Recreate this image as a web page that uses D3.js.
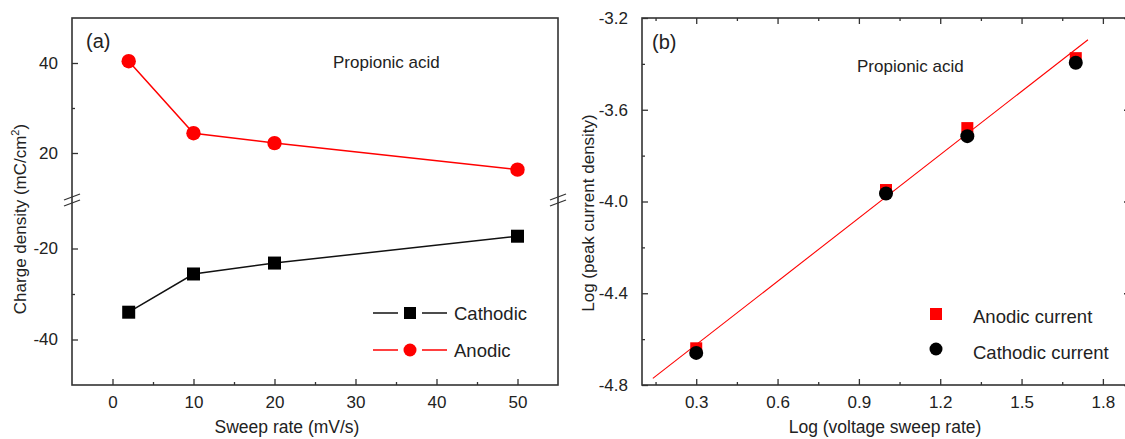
<!DOCTYPE html>
<html>
<head>
<meta charset="utf-8">
<script src="https://cdn.jsdelivr.net/npm/d3@7"></script>
<style>
  body { margin: 0; background: #fff; }
  svg text { font-family: "Liberation Sans", Arial, sans-serif; fill: #222; }
</style>
</head>
<body>
<div id="chart"></div>
<script>
// panel (a): charge density vs sweep rate
var sweepRates = [2, 10, 20, 50];
var anodicCharge = [40.4, 24.4, 22.2, 16.3];
var cathodicCharge = [-34.0, -25.6, -23.2, -17.3];
var aXTicks = [0, 10, 20, 30, 40, 50];
var aYTicksTop = [20, 40];
var aYTicksBot = [-20, -40];

// panel (b): log peak current vs log sweep rate
var logRates = [0.3, 1.0, 1.3, 1.7];
var logAnodic = [-4.64, -3.95, -3.68, -3.375];
var logCathodic = [-4.66, -3.965, -3.715, -3.395];
var fitSlope = 0.92, fitIntercept = -4.90, fitRange = [0.14, 1.745];
var bXTicks = [0.3, 0.6, 0.9, 1.2, 1.5, 1.8];
var bYTicks = [-4.8, -4.4, -4.0, -3.6, -3.2];

var W = 1125, H = 439;
var axisColor = "#333";
var red = "#f00";

// plain hyphen minus, like the original
function fmt(spec) {
    var f = d3.format(spec);
    return function(d) { return f(d).replace("\u2212", "-"); };
}

var svg = d3.select("#chart").append("svg").attr("width", W).attr("height", H);

// ---------- panel (a) ----------
var ax = {left: 72, right: 558, top: 18, bottom: 385, breakY: 200};
var xA = d3.scaleLinear().domain([-5, 55]).range([ax.left, ax.right]);
var yTop = d3.scaleLinear().domain([10, 50]).range([ax.breakY - 2, ax.top]);
var yBot = d3.scaleLinear().domain([-50, -10]).range([ax.bottom, ax.breakY + 3]);

var gA = svg.append("g");

// bottom axis, ticks pointing in
gA.append("g")
    .attr("transform", "translate(0," + ax.bottom + ")")
    .call(d3.axisBottom(xA).tickValues(d3.range(5, 55, 10)).tickSize(-3).tickFormat(""));
gA.append("g")
    .attr("transform", "translate(0," + ax.bottom + ")")
    .call(d3.axisBottom(xA).tickValues(aXTicks).tickSize(-6).tickPadding(11).tickFormat(fmt("d")));

// left axis segments
gA.append("g")
    .attr("transform", "translate(" + ax.left + ",0)")
    .call(d3.axisLeft(yTop).tickValues([30]).tickSize(-3).tickFormat(""));
gA.append("g")
    .attr("transform", "translate(" + ax.left + ",0)")
    .call(d3.axisLeft(yTop).tickValues(aYTicksTop).tickSize(-6).tickPadding(14).tickFormat(fmt("d")));
gA.append("g")
    .attr("transform", "translate(" + ax.left + ",0)")
    .call(d3.axisLeft(yBot).tickValues([-30]).tickSize(-3).tickFormat(""));
gA.append("g")
    .attr("transform", "translate(" + ax.left + ",0)")
    .call(d3.axisLeft(yBot).tickValues(aYTicksBot).tickSize(-6).tickPadding(14).tickFormat(fmt("d")));

gA.selectAll(".domain").remove();

// frame
gA.append("rect")
    .attr("x", ax.left).attr("y", ax.top)
    .attr("width", ax.right - ax.left).attr("height", ax.bottom - ax.top)
    .attr("fill", "none").attr("stroke", axisColor).attr("stroke-width", 1.6);

// axis break marks
[ax.left, ax.right].forEach(function(bx) {
    [-3, 3].forEach(function(off) {
        gA.append("line")
            .attr("x1", bx - 8).attr("y1", ax.breakY + off + 3)
            .attr("x2", bx + 8).attr("y2", ax.breakY + off - 3)
            .attr("stroke", axisColor).attr("stroke-width", 1.3);
    });
});

var lineTop = d3.line().x(function(d, i) { return xA(sweepRates[i]); }).y(function(d) { return yTop(d); });
var lineBot = d3.line().x(function(d, i) { return xA(sweepRates[i]); }).y(function(d) { return yBot(d); });

gA.append("path").datum(anodicCharge).attr("d", lineTop)
    .attr("fill", "none").attr("stroke", red).attr("stroke-width", 1.5);
gA.append("path").datum(cathodicCharge).attr("d", lineBot)
    .attr("fill", "none").attr("stroke", "#111").attr("stroke-width", 1.5);

gA.selectAll("circle.an").data(anodicCharge).enter().append("circle")
    .attr("cx", function(d, i) { return xA(sweepRates[i]); })
    .attr("cy", function(d) { return yTop(d); })
    .attr("r", 7.2).attr("fill", red);
gA.selectAll("rect.ca").data(cathodicCharge).enter().append("rect")
    .attr("x", function(d, i) { return xA(sweepRates[i]) - 6.5; })
    .attr("y", function(d) { return yBot(d) - 6.5; })
    .attr("width", 13).attr("height", 13).attr("fill", "#000");

gA.append("text").attr("x", 86).attr("y", 48).attr("font-size", "20px").text("(a)");
gA.append("text").attr("x", 333).attr("y", 68).attr("font-size", "17px").text("Propionic acid");

// legend (a)
var legA = gA.append("g");
[[313, "#111", "Cathodic", "sq"], [350, red, "Anodic", "ci"]].forEach(function(it) {
    legA.append("line").attr("x1", 373).attr("x2", 398).attr("y1", it[0]).attr("y2", it[0])
        .attr("stroke", it[1]).attr("stroke-width", 1.5);
    legA.append("line").attr("x1", 422).attr("x2", 447).attr("y1", it[0]).attr("y2", it[0])
        .attr("stroke", it[1]).attr("stroke-width", 1.5);
    if (it[3] === "sq") {
        legA.append("rect").attr("x", 404).attr("y", it[0] - 6).attr("width", 12).attr("height", 12).attr("fill", "#000");
    } else {
        legA.append("circle").attr("cx", 410).attr("cy", it[0]).attr("r", 6.5).attr("fill", red);
    }
    legA.append("text").attr("x", 454).attr("y", it[0] + 7).attr("font-size", "18.5px").text(it[2]);
});

gA.append("text").attr("x", 287).attr("y", 433).attr("text-anchor", "middle")
    .attr("font-size", "17.5px").text("Sweep rate (mV/s)");
var ylabA = gA.append("text").attr("transform", "translate(26,219) rotate(-90)")
    .attr("text-anchor", "middle").attr("font-size", "17px");
ylabA.append("tspan").text("Charge density (mC/cm");
ylabA.append("tspan").attr("font-size", "11px").attr("dy", "-7").text("2");
ylabA.append("tspan").attr("dy", "7").text(")");

// ---------- panel (b) ----------
var bx = {left: 642, right: 1130, top: 18, bottom: 385};
var xB = d3.scaleLinear().domain([0.1, 1.9]).range([bx.left, bx.right]);
var yB = d3.scaleLinear().domain([-4.8, -3.2]).range([bx.bottom, bx.top]);
var gB = svg.append("g");

var bXMinor = [0.15, 0.45, 0.75, 1.05, 1.35, 1.65];
var bYMinor = [-4.6, -4.2, -3.8, -3.4];

gB.append("g").attr("transform", "translate(0," + bx.bottom + ")")
    .call(d3.axisBottom(xB).tickValues(bXMinor).tickSize(-3).tickFormat(""));
gB.append("g").attr("transform", "translate(0," + bx.bottom + ")")
    .call(d3.axisBottom(xB).tickValues(bXTicks).tickSize(-6).tickPadding(11).tickFormat(fmt(".1f")));
gB.append("g").attr("transform", "translate(0," + bx.top + ")")
    .call(d3.axisTop(xB).tickValues(bXMinor).tickSize(-3).tickFormat(""));
gB.append("g").attr("transform", "translate(0," + bx.top + ")")
    .call(d3.axisTop(xB).tickValues(bXTicks).tickSize(-6).tickFormat(""));
gB.append("g").attr("transform", "translate(" + bx.left + ",0)")
    .call(d3.axisLeft(yB).tickValues(bYMinor).tickSize(-3).tickFormat(""));
gB.append("g").attr("transform", "translate(" + bx.left + ",0)")
    .call(d3.axisLeft(yB).tickValues(bYTicks).tickSize(-6).tickPadding(14).tickFormat(fmt(".1f")));
gB.append("g").attr("transform", "translate(" + bx.right + ",0)")
    .call(d3.axisRight(yB).tickValues(bYMinor).tickSize(-3).tickFormat(""));
gB.append("g").attr("transform", "translate(" + bx.right + ",0)")
    .call(d3.axisRight(yB).tickValues(bYTicks).tickSize(-6).tickFormat(""));
gB.selectAll(".domain").remove();

gB.append("rect")
    .attr("x", bx.left).attr("y", bx.top)
    .attr("width", bx.right - bx.left).attr("height", bx.bottom - bx.top)
    .attr("fill", "none").attr("stroke", axisColor).attr("stroke-width", 1.6);

// linear fit
gB.append("line")
    .attr("x1", xB(fitRange[0])).attr("y1", yB(fitIntercept + fitSlope * fitRange[0]))
    .attr("x2", xB(fitRange[1])).attr("y2", yB(fitIntercept + fitSlope * fitRange[1]))
    .attr("stroke", red).attr("stroke-width", 1.1);

gB.selectAll("rect.an").data(logAnodic).enter().append("rect")
    .attr("x", function(d, i) { return xB(logRates[i]) - 6; })
    .attr("y", function(d) { return yB(d) - 6; })
    .attr("width", 12).attr("height", 12).attr("fill", red);
gB.selectAll("circle.ca").data(logCathodic).enter().append("circle")
    .attr("cx", function(d, i) { return xB(logRates[i]); })
    .attr("cy", function(d) { return yB(d); })
    .attr("r", 7).attr("fill", "#000");

gB.append("text").attr("x", 652).attr("y", 49).attr("font-size", "20px").text("(b)");
gB.append("text").attr("x", 857).attr("y", 72).attr("font-size", "17px").text("Propionic acid");

gB.append("rect").attr("x", 930).attr("y", 308).attr("width", 12).attr("height", 12).attr("fill", red);
gB.append("text").attr("x", 973).attr("y", 323).attr("font-size", "18.5px").text("Anodic current");
gB.append("circle").attr("cx", 936).attr("cy", 349).attr("r", 6.5).attr("fill", "#000");
gB.append("text").attr("x", 973).attr("y", 359).attr("font-size", "18.5px").text("Cathodic current");

gB.append("text").attr("x", 885).attr("y", 433).attr("text-anchor", "middle")
    .attr("font-size", "17.5px").text("Log (voltage sweep rate)");
gB.append("text").attr("transform", "translate(594,213) rotate(-90)")
    .attr("text-anchor", "middle").attr("font-size", "17px").text("Log (peak current density)");

// tick styling
svg.selectAll(".tick line").attr("stroke", axisColor).attr("stroke-width", 1.3);
svg.selectAll(".tick text").attr("font-size", "17px").attr("fill", "#222");
</script>
</body>
</html>
